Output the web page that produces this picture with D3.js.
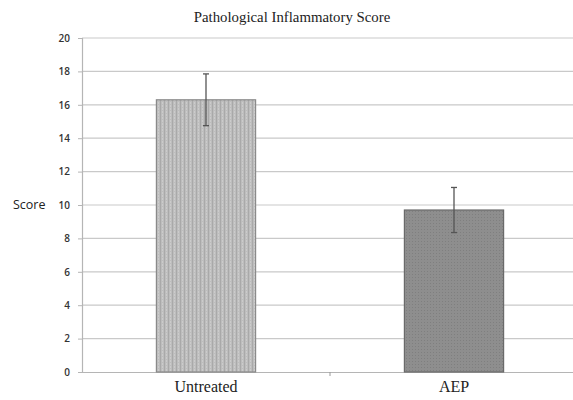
<!DOCTYPE html>
<html>
<head>
<meta charset="utf-8">
<script src="https://cdn.jsdelivr.net/npm/d3@7"></script>
<style>
  body { margin: 0; background: #fff; }
  svg { display: block; }
</style>
</head>
<body>
<div id="chart"></div>
<script>
// Chart data
let groups = ['Untreated', 'AEP'],
  scores = [16.3, 9.7],
  errors = [1.55, 1.35],
  yTicks = [0, 2, 4, 6, 8, 10, 12, 14, 16, 18, 20];

let w = 573,
  h = 400,
  plotL = 82,
  plotR = 578, // plot runs past the window edge
  plotT = 38,
  plotB = 372,

  svg = d3.select('#chart').
  append('svg').
  attr('width', w).
  attr('height', h),

  x = d3.scaleBand().
  domain(groups).
  range([plotL, plotR]).
  paddingInner(0).
  paddingOuter(0),

  y = d3.scaleLinear().
  domain([0, 20]).
  range([plotB, plotT]);

// Textures for the bars
let defs = svg.append('defs');

let p1 = defs.append('pattern').
attr('id', 'stripes').
attr('patternUnits', 'userSpaceOnUse').
attr('width', 4).
attr('height', 3);
p1.append('rect').attr('width', 4).attr('height', 3).attr('fill', '#bdbdbd');
p1.append('rect').attr('x', 0).attr('width', 1).attr('height', 3).attr('fill', '#a9a9a9');
p1.append('rect').attr('x', 2).attr('width', 1).attr('height', 2).attr('fill', '#cbcbcb');

let p2 = defs.append('pattern').
attr('id', 'dots').
attr('patternUnits', 'userSpaceOnUse').
attr('width', 3).
attr('height', 3);
p2.append('rect').attr('width', 3).attr('height', 3).attr('fill', '#8e8e8e');
p2.append('rect').attr('x', 1).attr('y', 1).attr('width', 1).attr('height', 1).attr('fill', '#7f7f7f');

// Horizontal gridlines
svg.append('g').
selectAll('line').
data(yTicks.filter(d => d > 0)).
enter().
append('line').
attr('x1', plotL).
attr('x2', plotR).
attr('y1', d => y(d)).
attr('y2', d => y(d)).
attr('stroke', '#c9c9c9').
attr('stroke-width', 1.2);

// Y axis
let yAxis = svg.append('g').
attr('transform', 'translate(' + plotL + ',0)').
call(d3.axisLeft(y).tickValues(yTicks).tickSize(4).tickPadding(8));
yAxis.select('.domain').attr('stroke', '#b5b5b5').attr('stroke-width', 1.2);
yAxis.selectAll('.tick line').attr('stroke', '#b5b5b5');
yAxis.selectAll('text').
attr('fill', '#333').
style('font-family', '"Open Sans", "DejaVu Sans", sans-serif').
style('font-size', '10px').
style('font-weight', '600');

// X axis
let xAxis = svg.append('g').
attr('transform', 'translate(0,' + plotB + ')').
call(d3.axisBottom(x).tickSize(0).tickPadding(9));
xAxis.select('.domain').attr('stroke', '#b5b5b5').attr('stroke-width', 1.2);
xAxis.selectAll('text').
attr('fill', '#222').
style('font-family', '"Liberation Serif", "DejaVu Serif", serif').
style('font-size', '16px');

// Small tick between the two groups
svg.append('line').
attr('x1', x('AEP')).
attr('x2', x('AEP')).
attr('y1', plotB).
attr('y2', plotB + 4).
attr('stroke', '#999');

// Bars
let barW = x.bandwidth() * 0.4;
svg.append('g').
selectAll('rect').
data(groups).
enter().
append('rect').
attr('x', d => x(d) + x.bandwidth() / 2 - barW / 2).
attr('y', (d, i) => y(scores[i])).
attr('width', barW).
attr('height', (d, i) => y(0) - y(scores[i])).
attr('fill', (d, i) => i === 0 ? 'url(#stripes)' : 'url(#dots)').
attr('stroke', (d, i) => i === 0 ? '#8a8a8a' : '#6a6a6a').
attr('stroke-width', 1.2);

// Error bars
let errs = svg.append('g').
selectAll('g').
data(groups).
enter().
append('g').
attr('stroke', '#555').
attr('stroke-width', 1.3);

errs.append('line').
attr('x1', d => x(d) + x.bandwidth() / 2).
attr('x2', d => x(d) + x.bandwidth() / 2).
attr('y1', (d, i) => y(scores[i] + errors[i])).
attr('y2', (d, i) => y(scores[i] - errors[i]));

errs.selectAll('.cap').
data((d, i) => [{ g: d, v: scores[i] + errors[i] }, { g: d, v: scores[i] - errors[i] }]).
enter().
append('line').
attr('class', 'cap').
attr('x1', d => x(d.g) + x.bandwidth() / 2 - 3).
attr('x2', d => x(d.g) + x.bandwidth() / 2 + 3).
attr('y1', d => y(d.v)).
attr('y2', d => y(d.v));

// Title
svg.append('text').
attr('x', 292).
attr('y', 22).
attr('text-anchor', 'middle').
attr('fill', '#222').
style('font-family', '"Liberation Serif", "DejaVu Serif", serif').
style('font-size', '14.8px').
text('Pathological Inflammatory Score');

// Y axis label
svg.append('text').
attr('x', 13).
attr('y', 209).
attr('fill', '#222').
style('font-family', '"Open Sans", "DejaVu Sans", sans-serif').
style('font-size', '12.5px').
text('Score');
</script>
</body>
</html>
